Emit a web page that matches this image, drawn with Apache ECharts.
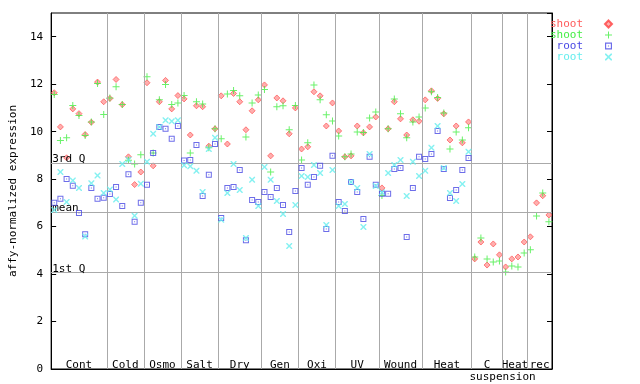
<!DOCTYPE html>
<html><head><meta charset="utf-8">
<script src="https://cdn.jsdelivr.net/npm/echarts@6/dist/echarts.min.js"></script>
<style>html,body{margin:0;padding:0;background:#fff}#c{width:640px;height:384px}</style>
</head><body><div id="c"></div>
<script>
const groupNames = ['Cont','Cold','Osmo','Salt','Dry','Gen','Oxi','UV','Wound','Heat','C','Heat','rec'];
const groupSizes = [9,6,6,6,7,6,6,7,7,8,5,4,4];
const subLabel = 'suspension';
const legendLabels = ['shoot','shoot','root','root'];
const shoot1 = [11.64,10.20,8.90,10.96,10.76,9.88,10.40,12.09,11.26,
  11.40,12.20,11.14,8.94,7.77,8.30,
  12.06,8.56,11.26,12.16,10.96,11.52,
  11.38,9.86,11.09,11.05,9.39,10.12,
  11.51,9.48,11.61,11.26,10.08,10.88,11.34,
  11.97,8.98,11.42,11.30,9.91,11.00,
  9.27,9.36,11.68,11.51,10.24,11.21,
  10.03,8.94,8.98,10.24,9.95,10.20,10.62,
  7.63,10.12,11.26,10.54,9.86,10.50,10.44,
  11.34,11.72,11.40,10.75,9.65,10.24,9.53,10.41,
  4.64,5.35,4.38,5.27,4.81,
  4.30,4.64,4.72,5.35,
  5.57,7.00,7.30,6.49];
const shoot2 = [11.57,9.63,9.74,11.10,10.68,9.84,10.41,12.03,10.72,
  11.42,11.89,11.14,8.80,8.64,9.03,
  12.31,9.10,11.35,11.99,11.14,11.21,
  11.52,9.10,11.26,11.17,9.32,10.12,
  9.70,11.59,11.73,11.51,9.78,11.21,11.55,
  11.78,8.30,11.05,11.09,10.08,11.10,
  8.81,9.53,11.97,11.34,10.71,10.45,
  9.82,8.94,9.06,9.99,9.97,10.58,10.83,
  7.31,10.12,11.38,10.75,9.74,10.41,10.62,
  11.00,11.68,11.44,10.79,9.27,9.99,9.65,10.16,
  4.72,5.52,4.64,4.51,4.55,
  4.09,4.34,4.30,4.89,
  5.02,6.45,7.42,6.20];
const root1 = [7.00,7.17,8.01,7.72,6.57,5.68,7.63,7.17,7.22,
  7.37,7.67,6.87,8.21,6.20,7.00,
  7.76,9.10,10.20,10.12,9.70,10.24,
  8.78,8.81,9.44,7.29,8.18,9.48,
  6.36,7.63,7.67,8.39,5.43,7.12,7.04,
  7.46,7.25,7.63,6.91,5.77,7.50,
  8.47,7.76,8.09,8.56,5.90,8.98,
  7.04,6.66,7.88,7.46,6.32,8.94,7.76,
  7.38,7.38,8.43,8.47,5.56,7.63,8.94,
  8.85,9.06,10.03,8.43,7.21,7.54,8.39,8.89];
const root2 = [6.70,8.30,7.04,7.94,7.63,5.58,7.83,8.15,7.42,
  7.56,7.14,8.64,8.82,6.46,7.81,
  8.73,9.91,10.20,10.48,10.44,10.48,
  8.58,8.54,8.35,7.46,9.27,9.74,
  6.29,7.42,8.64,7.54,5.52,7.97,6.87,
  8.51,7.97,7.08,6.53,5.18,6.91,
  8.13,8.09,8.60,8.26,6.07,8.39,
  6.87,6.95,7.88,7.63,5.98,9.06,7.71,
  7.45,8.26,8.60,8.81,7.29,8.73,8.13,
  8.35,9.32,10.24,8.47,7.42,7.08,7.80,9.15];
const refNames = ['3rd Q','mean','1st Q'];
const refValues = [8.69,6.62,4.08];

const FONT = 'DejaVu Sans Mono';
const colors = ['#ff5a5a','#44ee44','#4848e4','#66eeee'];
const symbols = [
  'path://M3,0L6,3L3,6L0,3Z',
  'path://M3,0H4V3H7V4H4V7H3V4H0V3H3Z',
  'path://M0,0H6V6H0Z M1,1V5H5V1Z M2.5,2.5H3.5V3.5H2.5Z',
  'path://M0,0L1,0L3,2L5,0L6,0L6,1L4,3L6,5L6,6L5,6L3,4L1,6L0,6L0,5L2,3L0,1Z'
];
const symSizes = [6,7,6,6];
const itemStyles = [
  {color:'#ff9a9a', borderColor:'#ff4040', borderWidth:0.8},
  {color:colors[1]},
  {color:colors[2]},
  {color:colors[3]}
];

const total = groupSizes.reduce((a,b)=>a+b,0);
const bounds = [];
let acc = 0;
groupSizes.forEach(s => { bounds.push([acc, acc+s]); acc += s; });
const sepLines = bounds.slice(0,-1).map(b => ({xAxis: b[1]}));
const areas = bounds.map((b,i) => [{xAxis: b[0], name: groupNames[i]}, {xAxis: b[1]}]);
const cIdx = groupNames.indexOf('C');
const subX = bounds[cIdx][1];

const all = [shoot1, shoot2, root1, root2];
const series = all.map((arr, k) => ({
  name: 's'+k, type: 'scatter', z: 3+k,
  symbol: symbols[k], symbolSize: symSizes[k],
  itemStyle: itemStyles[k],
  data: arr.map((v,i) => [i+0.5, v]),
  animation: false
}));
series.unshift({
  name: 'ref', type: 'scatter', data: [], z: 1, animation: false, silent: true,
  markLine: {
    silent: true, symbol: 'none', animation: false,
    lineStyle: {color:'#aaaaaa', width:1, type:'solid'},
    label: {show: false},
    data: sepLines.concat(refValues.map((v,i) => ({
      yAxis: v, name: refNames[i],
      label: {show: true, formatter: refNames[i], position: 'insideStartTop', distance: [1,-2],
        color:'#000', fontFamily: FONT, fontSize: 11, padding: 0}
    })))
  },
  markArea: {
    silent: true, animation: false,
    itemStyle: {color: 'rgba(0,0,0,0)'},
    label: {show: true, position: 'insideBottom', distance: -2, color:'#000', fontFamily: FONT, fontSize: 11},
    data: areas.concat([[{xAxis: subX-1, name: subLabel, label:{position:'bottom', distance: 3}}, {xAxis: subX+1}]])
  }
});

const chart = echarts.init(document.getElementById('c'), null, {renderer:'canvas'});
chart.setOption({
  backgroundColor: '#fff',
  animation: false,
  grid: {left: 44, right: 88, top: 13, bottom: 15, show: true, borderColor: '#000', borderWidth: 1, backgroundColor: 'transparent'},
  legend: {
    orient: 'vertical', right: 27, top: 18.5, align: 'right', itemWidth: 7, itemHeight: 7, itemGap: 0,
    selectedMode: false, padding: 0,
    data: series.slice(1).map((s,k) => ({name: s.name, textStyle: {color: colors[k]}})),
    formatter: n => legendLabels[+n.slice(1)],
    textStyle: {fontFamily: FONT, fontSize: 11, lineHeight: 10.7, padding: [0,17,0,0]}
  },
  xAxis: {type: 'value', min: 0, max: total,
    axisLine: {show: true, lineStyle: {color:'#000'}}, axisTick: {show: false}, axisLabel: {show: false}, splitLine: {show: false}},
  yAxis: [
    {type: 'value', min: 0, max: 15, interval: 2,
      name: 'affy-normalized expression', nameLocation: 'middle', nameGap: 28,
      nameTextStyle: {fontFamily: FONT, fontSize: 11, color: '#000'},
      axisLine: {show: true, lineStyle: {color:'#000'}},
      axisTick: {show: true, inside: true, length: 5, lineStyle: {color:'#000'}},
      axisLabel: {fontFamily: FONT, fontSize: 11, color: '#000', margin: 8, showMaxLabel: false},
      splitLine: {show: false}},
    {type: 'value', min: 0, max: 15, interval: 2, position: 'right',
      axisLine: {show: true, lineStyle: {color:'#000'}},
      axisTick: {show: true, inside: true, length: 5, lineStyle: {color:'#000'}},
      axisLabel: {show: false}, splitLine: {show: false}}
  ],
  series: series
});
</script></body></html>
